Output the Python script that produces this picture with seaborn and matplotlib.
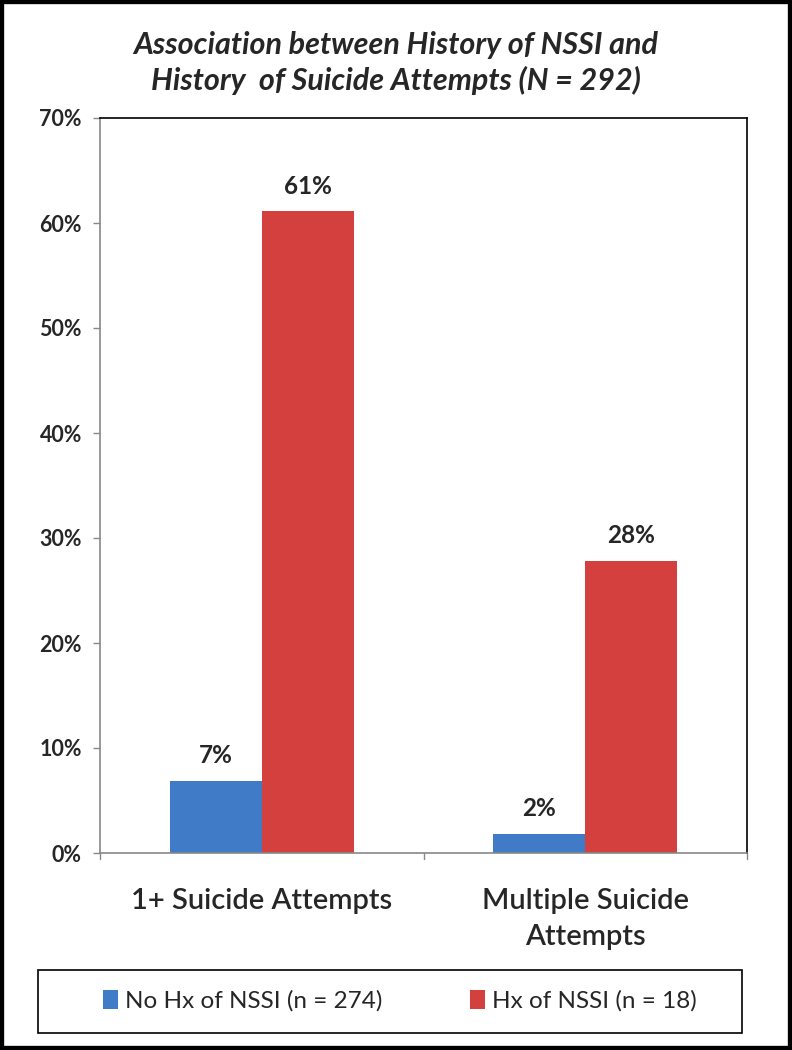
import matplotlib
matplotlib.use("Agg")
import matplotlib.pyplot as plt
import matplotlib.patches as mpatches
import seaborn as sns
import pandas as pd

categories = ["1+ Suicide Attempts", "Multiple Suicide\nAttempts"]
groups = ["No Hx of NSSI (n = 274)", "Hx of NSSI (n = 18)"]
no_nssi = [0.069, 0.018]
hx_nssi = [0.611, 0.278]
bar_labels_no = ["7%", "2%"]
bar_labels_hx = ["61%", "28%"]
yticks = [0, 0.1, 0.2, 0.3, 0.4, 0.5, 0.6, 0.7]
ytick_labels = ["0%", "10%", "20%", "30%", "40%", "50%", "60%", "70%"]

df = pd.DataFrame({
    "category": categories * 2,
    "group": [groups[0]] * 2 + [groups[1]] * 2,
    "value": no_nssi + hx_nssi,
})

sns.set_theme(style="white")
plt.rcParams['font.family'] = ['Lato', 'DejaVu Sans']

W, H = 792, 1050
fig = plt.figure(figsize=(W / 100, H / 100), dpi=100)
ax = fig.add_axes([100 / W, 1 - 853 / H, 647 / W, 735 / H])

palette = {groups[0]: "#3f7bc6", groups[1]: "#d3403d"}
sns.barplot(data=df, x="category", y="value", hue="group", hue_order=groups,
            order=categories, palette=palette, width=0.57, ax=ax,
            saturation=1, legend=False, edgecolor="none")

ax.set_ylim(0, 0.7)
ax.set_xlim(-0.5, 1.5)
ax.set_yticks(yticks)
ax.set_yticklabels(ytick_labels, fontsize=15.5, fontweight="bold")
ax.set_xlabel("")
ax.set_ylabel("")
ax.tick_params(axis="x", length=0, labelsize=21, pad=25)
ax.tick_params(axis="y", length=5, width=1, color="#888888", pad=8, left=True)
for lbl in ax.get_xticklabels():
    lbl.set_fontweight("semibold")
    lbl.set_linespacing(1.5)

# category separators tick marks
for xp in [-0.5, 0.5, 1.5]:
    ax.plot([xp, xp], [0, -0.006], color="#888888", lw=1, clip_on=False)

ax.spines["left"].set_color("#888888")
ax.spines["bottom"].set_color("#888888")
ax.spines["top"].set_color("black")
ax.spines["right"].set_color("black")
for s in ax.spines.values():
    s.set_linewidth(1.2)

for cont, labs in zip(ax.containers, [bar_labels_no, bar_labels_hx]):
    ax.bar_label(cont, labels=labs, padding=10, fontsize=17.5, fontweight="bold")

fig.text(0.5, 1 - 63 / H,
         "Association between History of NSSI and\nHistory  of Suicide Attempts (N = 292)",
         ha="center", va="center", fontsize=22, fontstyle="italic",
         fontweight="bold", linespacing=1.3)

# legend box
fig.patches.append(mpatches.Rectangle((38 / W, 1 - 1033 / H), 704 / W, 63 / H,
                                      transform=fig.transFigure, fill=False,
                                      edgecolor="black", lw=1.2))
handles = [mpatches.Patch(facecolor=palette[g], edgecolor="none") for g in groups]
fig.legend(handles, groups, loc="center", bbox_to_anchor=(0.505, 1 - 1001 / H),
           ncol=2, frameon=False, fontsize=17.5, handlelength=0.6, handleheight=0.8,
           handletextpad=0.3, columnspacing=3.6)

# outer border
fig.patches.append(mpatches.Rectangle((0, 0), 1, 1, transform=fig.transFigure,
                                      fill=False, edgecolor="black", lw=6))

fig.savefig("out.png", dpi=100)
